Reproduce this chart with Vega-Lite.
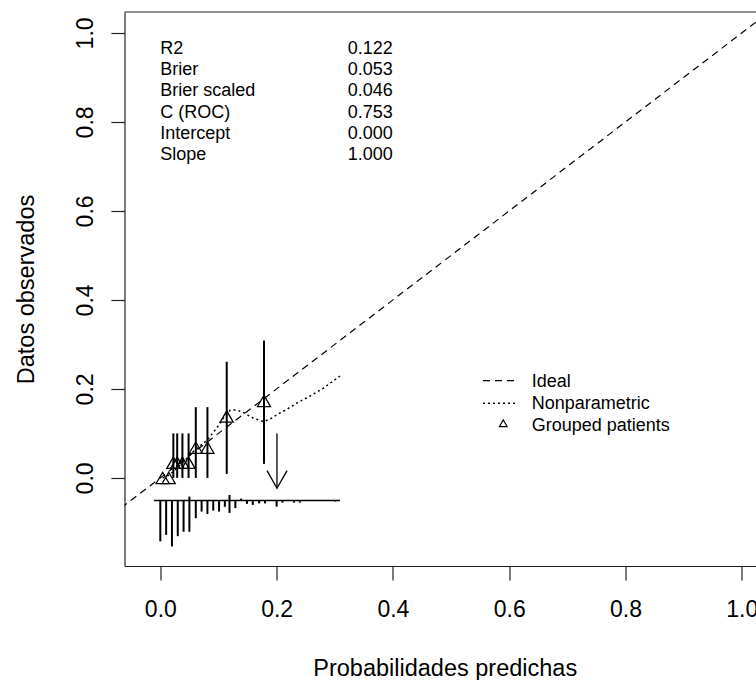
{
  "$schema": "https://vega.github.io/schema/vega-lite/v6.json",
  "autosize": {"type": "none"},
  "padding": {"left": 124.5, "top": 12, "right": 0, "bottom": 114},
  "width": 631.5,
  "height": 554,
  "background": "white",
  "config": {
    "view": {"stroke": null},
    "font": "Liberation Sans",
    "axis": {"grid": false, "domainColor": "#222", "tickColor": "#222", "domainWidth": 1.2, "tickWidth": 1.2, "labelColor": "black", "titleColor": "black", "labelFont": "Liberation Sans", "titleFont": "Liberation Sans", "titleFontWeight": "normal"}
  },
  "datasets": {
    "ideal": [{"x": -0.1, "y": -0.1}, {"x": 1.1, "y": 1.1}],
    "lowess": [
      {"x": 0.004, "y": 0.0}, {"x": 0.011, "y": 0.003}, {"x": 0.0224, "y": 0.014}, {"x": 0.0425, "y": 0.040},
      {"x": 0.0597, "y": 0.063}, {"x": 0.0808, "y": 0.085}, {"x": 0.097, "y": 0.112}, {"x": 0.108, "y": 0.134},
      {"x": 0.12, "y": 0.152}, {"x": 0.131, "y": 0.153}, {"x": 0.1457, "y": 0.145}, {"x": 0.16, "y": 0.134},
      {"x": 0.177, "y": 0.1265}, {"x": 0.1886, "y": 0.132}, {"x": 0.2002, "y": 0.1416}, {"x": 0.2174, "y": 0.154},
      {"x": 0.2346, "y": 0.168}, {"x": 0.2574, "y": 0.184}, {"x": 0.2803, "y": 0.2016}, {"x": 0.309, "y": 0.229}
    ],
    "groups": [
      {"x": 0.004, "y": 0.0}, {"x": 0.0144, "y": 0.0},
      {"x": 0.0224, "y": 0.034}, {"x": 0.029, "y": 0.034}, {"x": 0.038, "y": 0.034}, {"x": 0.0486, "y": 0.034},
      {"x": 0.061, "y": 0.068}, {"x": 0.081, "y": 0.068},
      {"x": 0.1142, "y": 0.138}, {"x": 0.1783, "y": 0.173}
    ],
    "ci": [
      {"x": 0.0224, "y": 0.0, "y2": 0.1}, {"x": 0.029, "y": 0.0, "y2": 0.1}, {"x": 0.038, "y": 0.0, "y2": 0.1}, {"x": 0.0486, "y": 0.0, "y2": 0.1},
      {"x": 0.061, "y": 0.0, "y2": 0.159}, {"x": 0.081, "y": 0.0, "y2": 0.159},
      {"x": 0.1142, "y": 0.009, "y2": 0.261}, {"x": 0.1783, "y": 0.0315, "y2": 0.3085}
    ],
    "spikes": [
      {"x": 0.000, "y": -0.051, "y2": -0.1427}, {"x": 0.010, "y": -0.051, "y2": -0.128}, {"x": 0.020, "y": -0.051, "y2": -0.154},
      {"x": 0.030, "y": -0.051, "y2": -0.131}, {"x": 0.040, "y": -0.051, "y2": -0.121}, {"x": 0.050, "y": -0.051, "y2": -0.121},
      {"x": 0.061, "y": -0.051, "y2": -0.0906}, {"x": 0.071, "y": -0.051, "y2": -0.0757}, {"x": 0.081, "y": -0.051, "y2": -0.0813},
      {"x": 0.091, "y": -0.051, "y2": -0.0735}, {"x": 0.101, "y": -0.051, "y2": -0.0757}, {"x": 0.111, "y": -0.051, "y2": -0.065},
      {"x": 0.119, "y": -0.051, "y2": -0.0787}, {"x": 0.129, "y": -0.051, "y2": -0.068}, {"x": 0.149, "y": -0.051, "y2": -0.0584},
      {"x": 0.159, "y": -0.051, "y2": -0.0607}, {"x": 0.170, "y": -0.051, "y2": -0.0573}, {"x": 0.180, "y": -0.051, "y2": -0.0573},
      {"x": 0.200, "y": -0.051, "y2": -0.0645}, {"x": 0.210, "y": -0.051, "y2": -0.0555}, {"x": 0.230, "y": -0.051, "y2": -0.0555},
      {"x": 0.240, "y": -0.051, "y2": -0.0555}, {"x": 0.301, "y": -0.051, "y2": -0.053},
      {"x": 0.050, "y": -0.051, "y2": -0.042}, {"x": 0.119, "y": -0.051, "y2": -0.0385}, {"x": 0.139, "y": -0.051, "y2": -0.0465}
    ],
    "baseline": [{"x": -0.011, "x2": 0.309, "y": -0.051}],
    "arrow": [{"x": 0.2006, "y": 0.1, "y2": -0.023}],
    "arrowhead": [{"x": 0.1835, "y": 0.0164, "o": 1}, {"x": 0.2006, "y": -0.0232, "o": 2}, {"x": 0.2179, "y": 0.0164, "o": 3}],
    "stats": [
      {"x": 0.0, "y": 0.9528, "label": "R2"}, {"x": 0.0, "y": 0.9051, "label": "Brier"}, {"x": 0.0, "y": 0.8575, "label": "Brier scaled"},
      {"x": 0.0, "y": 0.8099, "label": "C (ROC)"}, {"x": 0.0, "y": 0.7622, "label": "Intercept"}, {"x": 0.0, "y": 0.7146, "label": "Slope"},
      {"x": 0.3223, "y": 0.9528, "label": "0.122"}, {"x": 0.3223, "y": 0.9051, "label": "0.053"}, {"x": 0.3223, "y": 0.8575, "label": "0.046"},
      {"x": 0.3223, "y": 0.8099, "label": "0.753"}, {"x": 0.3223, "y": 0.7622, "label": "0.000"}, {"x": 0.3223, "y": 0.7146, "label": "1.000"}
    ],
    "border": [{"x": -0.0616, "x2": 1.0244, "y": 1.047}],
    "legIdeal": [{"x": 0.5549, "x2": 0.6099, "y": 0.2187}],
    "legNonpar": [{"x": 0.5549, "x2": 0.6099, "y": 0.1679}],
    "legTri": [{"x": 0.5898, "y": 0.1229}],
    "legText": [
      {"x": 0.6387, "y": 0.2038, "label": "Ideal"},
      {"x": 0.6387, "y": 0.155, "label": "Nonparametric"},
      {"x": 0.6387, "y": 0.1063, "label": "Grouped patients"}
    ]
  },
  "layer": [
    {
      "data": {"name": "ideal"},
      "mark": {"type": "line", "clip": true, "color": "black", "strokeWidth": 1.2, "strokeDash": [7, 5]},
      "encoding": {
        "x": {"field": "x", "type": "quantitative", "scale": {"domain": [-0.0616, 1.0244], "nice": false, "zero": false},
          "axis": {"orient": "bottom", "values": [0, 0.2, 0.4, 0.6, 0.8, 1.0], "format": ".1f", "tickSize": 14, "labelFontSize": 23, "labelBaseline": "alphabetic", "labelPadding": 36.5, "labelFlush": false, "labelOverlap": false, "labelBound": false,
            "title": "Probabilidades predichas", "titleFontSize": 23.5, "titleX": 320.2, "titleY": 109, "titleAlign": "center", "titleBaseline": "alphabetic", "titleAngle": 0}},
        "y": {"field": "y", "type": "quantitative", "scale": {"domain": [-0.198, 1.047], "nice": false, "zero": false},
          "axis": {"orient": "left", "values": [0, 0.2, 0.4, 0.6, 0.8, 1.0], "format": ".1f", "tickSize": 13.6, "labelFontSize": 23, "labelAngle": -90, "labelAlign": "center", "labelBaseline": "alphabetic", "labelPadding": 18, "labelFlush": false, "labelOverlap": false,
            "title": "Datos observados", "titleFontSize": 23.5, "titleAngle": -90, "titleX": -91.2, "titleY": 277, "titleAlign": "center", "titleBaseline": "alphabetic"}}
      }
    },
    {
      "data": {"name": "border"},
      "mark": {"type": "rule", "color": "#222", "strokeWidth": 1.2},
      "encoding": {
        "x": {"field": "x", "type": "quantitative"},
        "x2": {"field": "x2"},
        "y": {"field": "y", "type": "quantitative"}
      }
    },
    {
      "data": {"name": "lowess"},
      "mark": {"type": "line", "color": "black", "strokeWidth": 1.5, "strokeDash": [2, 3]},
      "encoding": {
        "x": {"field": "x", "type": "quantitative"},
        "y": {"field": "y", "type": "quantitative"}
      }
    },
    {
      "data": {"name": "ci"},
      "mark": {"type": "rule", "color": "black", "strokeWidth": 2},
      "encoding": {
        "x": {"field": "x", "type": "quantitative"},
        "y": {"field": "y", "type": "quantitative"},
        "y2": {"field": "y2"}
      }
    },
    {
      "data": {"name": "groups"},
      "mark": {"type": "point", "shape": "triangle-up", "filled": false, "size": 170, "stroke": "black", "strokeWidth": 1.3, "opacity": 1},
      "encoding": {
        "x": {"field": "x", "type": "quantitative"},
        "y": {"field": "y", "type": "quantitative"}
      }
    },
    {
      "data": {"name": "spikes"},
      "mark": {"type": "rule", "color": "black", "strokeWidth": 2},
      "encoding": {
        "x": {"field": "x", "type": "quantitative"},
        "y": {"field": "y", "type": "quantitative"},
        "y2": {"field": "y2"}
      }
    },
    {
      "data": {"name": "baseline"},
      "mark": {"type": "rule", "color": "black", "strokeWidth": 1.5},
      "encoding": {
        "x": {"field": "x", "type": "quantitative"},
        "x2": {"field": "x2"},
        "y": {"field": "y", "type": "quantitative"}
      }
    },
    {
      "data": {"name": "arrow"},
      "mark": {"type": "rule", "color": "black", "strokeWidth": 1.3},
      "encoding": {
        "x": {"field": "x", "type": "quantitative"},
        "y": {"field": "y", "type": "quantitative"},
        "y2": {"field": "y2"}
      }
    },
    {
      "data": {"name": "arrowhead"},
      "mark": {"type": "line", "color": "black", "strokeWidth": 1.3},
      "encoding": {
        "x": {"field": "x", "type": "quantitative"},
        "y": {"field": "y", "type": "quantitative"},
        "order": {"field": "o", "type": "quantitative"}
      }
    },
    {
      "data": {"name": "stats"},
      "mark": {"type": "text", "align": "left", "baseline": "alphabetic", "fontSize": 18, "font": "Liberation Sans", "color": "black"},
      "encoding": {
        "x": {"field": "x", "type": "quantitative"},
        "y": {"field": "y", "type": "quantitative"},
        "text": {"field": "label"}
      }
    },
    {
      "data": {"name": "legIdeal"},
      "mark": {"type": "rule", "color": "black", "strokeWidth": 1.2, "strokeDash": [7, 5]},
      "encoding": {
        "x": {"field": "x", "type": "quantitative"},
        "x2": {"field": "x2"},
        "y": {"field": "y", "type": "quantitative"}
      }
    },
    {
      "data": {"name": "legNonpar"},
      "mark": {"type": "rule", "color": "black", "strokeWidth": 1.5, "strokeDash": [2, 3]},
      "encoding": {
        "x": {"field": "x", "type": "quantitative"},
        "x2": {"field": "x2"},
        "y": {"field": "y", "type": "quantitative"}
      }
    },
    {
      "data": {"name": "legTri"},
      "mark": {"type": "point", "shape": "triangle-up", "filled": false, "size": 60, "stroke": "black", "strokeWidth": 1.2, "opacity": 1},
      "encoding": {
        "x": {"field": "x", "type": "quantitative"},
        "y": {"field": "y", "type": "quantitative"}
      }
    },
    {
      "data": {"name": "legText"},
      "mark": {"type": "text", "align": "left", "baseline": "alphabetic", "fontSize": 18, "font": "Liberation Sans", "color": "black"},
      "encoding": {
        "x": {"field": "x", "type": "quantitative"},
        "y": {"field": "y", "type": "quantitative"},
        "text": {"field": "label"}
      }
    }
  ]
}
